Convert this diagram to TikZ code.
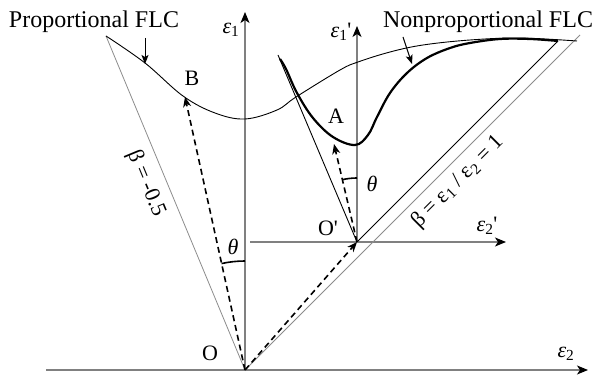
\documentclass[tikz,border=0pt]{standalone}
\usepackage{fontspec}
\setmainfont{Liberation Serif}
\usetikzlibrary{arrows.meta,calc}
\definecolor{axisgray}{RGB}{128,128,128}
\definecolor{refgray}{RGB}{140,140,140}
\tikzset{
  axis/.style={axisgray,line width=1.3pt,-{Stealth[length=11pt,width=9pt,inset=3pt,color=black]}},
  refline/.style={refgray,line width=0.8pt},
  shifted/.style={black,line width=0.9pt},
  flc/.style={black,line width=0.9pt},
  flcbold/.style={black,line width=2.2pt},
  vec/.style={black,line width=1.6pt,dash pattern=on 6pt off 4pt,
              -{Stealth[length=10pt,width=8pt,inset=3pt]}},
  pointer/.style={black,line width=1pt,-{Stealth[length=9pt,width=7pt,inset=2pt]}},
  angarc/.style={black,line width=1.6pt},
  lab/.style={font=\fontsize{22}{24}\selectfont,inner sep=0pt},
  title/.style={font=\fontsize{24}{26}\selectfont,inner sep=0pt},
}
\begin{document}
\begin{tikzpicture}[x=1pt,y=1pt]
  \useasboundingbox (0,0) rectangle (594,377);

  % origins and end points
  \coordinate (O) at (245,7);
  \coordinate (Op) at (357,135);
  \coordinate (B) at (185,280);
  \coordinate (A) at (334,233);
  \coordinate (xl) at (46,7);
  \coordinate (xr) at (588,7);
  \coordinate (yt) at (245,365);
  \coordinate (xpl) at (250,135);
  \coordinate (xpr) at (506,135);
  \coordinate (ypt) at (357,351);
  \coordinate (Pt) at (106,341);
  \coordinate (Gt) at (580,342);
  \coordinate (Ht) at (558,336);
  \coordinate (Lt) at (278,322);

  % axes
  \draw[axis] (xl) -- (xr);
  \draw[axis] (O) -- (yt);
  \draw[axis] (xpl) -- (xpr);
  \draw[axis] (Op) -- (ypt);

  % strain path lines
  \draw[refline] (O) -- (Pt);
  \draw[refline] (O) -- (Gt);
  \draw[shifted] (Op) -- (Ht);
  \draw[shifted] (Op) -- (Lt);

  % forming limit curves
  \draw[flc] plot[smooth,tension=0.6] coordinates {(106,341) (145,314) (183,281)
    (215,264) (245,258) (277,267) (296,280) (340,307) (358,315) (390,325)
    (423,332) (470,337) (520,339) (577,336)};
  \draw[flcbold] plot[smooth,tension=0.6] coordinates {(280,318) (286,308) (297,284)
    (313,259) (333,240) (355,232) (368,242) (377,260) (390,284) (407,304)
    (427,319) (450,329) (470,334) (500,338) (530,338) (558,336)};

  % strain vectors
  \draw[vec] (O) -- (B);
  \draw[vec] (Op) -- (A);
  \draw[vec] (O) -- (Op);

  % angles
  \draw[angarc] ([shift={(90:109)}]O) arc[start angle=90,end angle=102.4,radius=109];
  \draw[angarc] ([shift={(90:64)}]Op) arc[start angle=90,end angle=103.2,radius=64];

  % labels
  \node[title] (pflc) at (94,355) {Proportional FLC};
  \node[title] (nflc) at (488,355) {Nonproportional FLC};
  \coordinate (pfa) at (145,339);
  \coordinate (pfb) at (145,313);
  \coordinate (nfa) at (403,340);
  \coordinate (nfb) at (412,313);
  \draw[pointer] (pfa) -- (pfb);
  \draw[pointer] (nfa) -- (nfb);

  \node[lab] (lB) at (192,299) {B};
  \node[lab] (lA) at (336,261) {A};
  \node[lab] (lO) at (210,24) {O};
  \node[lab] (lOp) at (328,149) {O\textquotesingle};
  \node[lab] (e1) at (231,347) {\itshape ε\textsubscript{\upshape 1}};
  \node[lab] (e1p) at (341,345) {\itshape ε\textsubscript{\upshape 1}\upshape\textquotesingle};
  \node[lab] (e2) at (566,23) {\itshape ε\textsubscript{\upshape 2}};
  \node[lab] (e2p) at (487,151) {\itshape ε\textsubscript{\upshape 2}\upshape\textquotesingle};
  \node[lab] (thO) at (233,130) {\itshape θ};
  \node[lab] (thOp) at (372,193) {\itshape θ};
  \node[lab,rotate=-67.5] (bneg) at (146,193) {β = -0.5};
  \node[lab,rotate=45] (bone) at (458,195) {β = ε\textsubscript{1} / ε\textsubscript{2} = 1};
\end{tikzpicture}
\end{document}
